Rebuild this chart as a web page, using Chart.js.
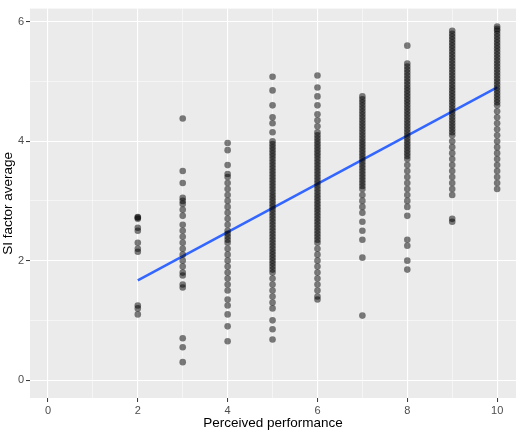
<!DOCTYPE html>
<html><head><meta charset="utf-8">
<script src="https://cdn.jsdelivr.net/npm/chart.js@4/dist/chart.umd.min.js"></script>
<style>body{margin:0;background:#fff}#wrap{width:520px;height:431px}</style>
</head><body><div id="wrap"><canvas id="c"></canvas></div>
<script>
// scores at each perceived performance level
const perf2 = [2.73,2.72,2.7,2.55,2.5,2.3,2.2,2.15,1.25,1.2,1.1];
const perf3 = [4.38,3.5,3.3,3.05,3.0,2.95,2.85,2.75,2.6,2.5,2.4,2.3,2.2,2.1,2.0,1.9,1.8,1.75,1.6,1.55,0.7,0.55,0.3];
const perf4 = [3.97,3.85,3.6,3.45,3.4,3.3,3.2,3.1,3.0,2.9,2.8,2.7,2.6,2.5,2.45,2.4,2.35,2.3,2.2,2.1,2.0,1.9,1.8,1.7,1.6,1.5,1.35,1.25,1.1,0.9,0.65];
const perf5 = [5.08,4.85,4.6,4.4,4.3,4.15,4.0,3.95,3.9,3.85,3.8,3.75,3.7,3.65,3.6,3.55,3.5,3.45,3.4,3.35,3.3,3.25,3.2,3.15,3.1,3.05,3.0,2.95,2.9,2.85,2.8,2.75,2.7,2.65,2.6,2.55,2.5,2.45,2.4,2.35,2.3,2.25,2.2,2.15,2.1,2.05,2.0,1.95,1.9,1.85,1.8,1.7,1.6,1.5,1.4,1.3,1.2,1.0,0.85,0.68];
const perf6 = [5.1,4.9,4.75,4.6,4.45,4.35,4.25,4.15,4.1,4.05,4.0,3.95,3.9,3.85,3.8,3.75,3.7,3.65,3.6,3.55,3.5,3.45,3.4,3.35,3.3,3.25,3.2,3.15,3.1,3.05,3.0,2.95,2.9,2.85,2.8,2.75,2.7,2.65,2.6,2.55,2.5,2.45,2.4,2.35,2.3,2.2,2.1,2.0,1.9,1.8,1.7,1.6,1.5,1.4,1.35];
const perf7 = [4.75,4.7,4.65,4.6,4.55,4.5,4.45,4.4,4.35,4.3,4.25,4.2,4.15,4.1,4.05,4.0,3.95,3.9,3.85,3.8,3.75,3.7,3.65,3.6,3.55,3.5,3.45,3.4,3.35,3.3,3.25,3.2,3.1,3.0,2.9,2.8,2.65,2.5,2.35,2.05,1.08];
const perf8 = [5.6,5.3,5.25,5.2,5.15,5.1,5.05,5.0,4.95,4.9,4.85,4.8,4.75,4.7,4.65,4.6,4.55,4.5,4.45,4.4,4.35,4.3,4.25,4.2,4.15,4.1,4.05,4.0,3.95,3.9,3.85,3.8,3.75,3.7,3.6,3.5,3.4,3.3,3.2,3.1,3.0,2.9,2.75,2.35,2.25,2.0,1.85];
const perf9 = [5.85,5.8,5.75,5.7,5.65,5.6,5.55,5.5,5.45,5.4,5.35,5.3,5.25,5.2,5.15,5.1,5.05,5.0,4.95,4.9,4.85,4.8,4.75,4.7,4.65,4.6,4.55,4.5,4.45,4.4,4.35,4.3,4.25,4.2,4.15,4.1,4.0,3.9,3.8,3.7,3.6,3.5,3.4,3.3,3.2,3.1,2.7,2.65];
const perf10 = [5.92,5.88,5.85,5.8,5.75,5.7,5.65,5.6,5.55,5.5,5.45,5.4,5.35,5.3,5.25,5.2,5.15,5.1,5.05,5.0,4.95,4.9,4.85,4.8,4.75,4.7,4.65,4.6,4.5,4.4,4.3,4.2,4.1,4.0,3.9,3.8,3.7,3.6,3.5,3.4,3.3,3.2];
const levels = [2,3,4,5,6,7,8,9,10];
const columns = [perf2,perf3,perf4,perf5,perf6,perf7,perf8,perf9,perf10];
const fitX = [2,10];
const fitY = [1.67,4.9];

const pts = [];
levels.forEach((lv,i)=>columns[i].forEach(v=>pts.push({x:lv,y:v})));

const panelBg = {
  id:'panelBg',
  beforeDraw(chart){
    const {ctx,chartArea:a} = chart;
    ctx.save(); ctx.fillStyle='#EBEBEB';
    ctx.fillRect(a.left,a.top,a.right-a.left,a.bottom-a.top); ctx.restore();
  }
};
const gridStyle = {
  color:'#fff',
  lineWidth:c=>(Math.round(c.tick.value)%2===0?1.1:0.5),
  drawTicks:true, tickLength:4, tickColor:'#333', tickWidth:c=>(Math.round(c.tick.value)%2===0?1:0)
};
const tickFont = {family:'Liberation Sans, Arial', size:11};

new Chart(document.getElementById('c'),{
  type:'scatter',
  data:{datasets:[
    {data:pts, backgroundColor:'rgba(0,0,0,0.5)', borderWidth:0, pointRadius:3.3},
    {type:'line', data:fitX.map((x,i)=>({x,y:fitY[i]})), borderColor:'#3366FF', borderWidth:2.5, pointRadius:0}
  ]},
  options:{
    responsive:true, maintainAspectRatio:false, animation:false,
    layout:{padding:{top:5,right:3,left:0,bottom:0}},
    plugins:{legend:{display:false},tooltip:{enabled:false}},
    scales:{
      x:{min:-0.4,max:10.42, border:{display:false}, grid:gridStyle,
        afterBuildTicks:s=>{s.ticks=[0,1,2,3,4,5,6,7,8,9,10].map(v=>({value:v}));},
        afterFit:s=>{s.height=33;},
        ticks:{autoSkip:false,maxRotation:0,padding:2,color:'#4D4D4D',font:tickFont,callback:v=>(v%2===0?v:'')},
        title:{display:true,text:'Perceived performance',color:'#000',font:{family:'Liberation Sans, Arial',size:13.5},padding:{top:0,bottom:0}}},
      y:{min:-0.3,max:6.22, border:{display:false}, grid:gridStyle,
        afterBuildTicks:s=>{s.ticks=[0,1,2,3,4,5,6].map(v=>({value:v}));},
        afterFit:s=>{s.width=30;},
        ticks:{autoSkip:false,padding:2,color:'#4D4D4D',font:tickFont,callback:v=>(v%2===0?v:'')},
        title:{display:true,text:'SI factor average',color:'#000',font:{family:'Liberation Sans, Arial',size:13.5},padding:{top:0,bottom:2}}}
    }
  },
  plugins:[panelBg]
});
</script></body></html>
